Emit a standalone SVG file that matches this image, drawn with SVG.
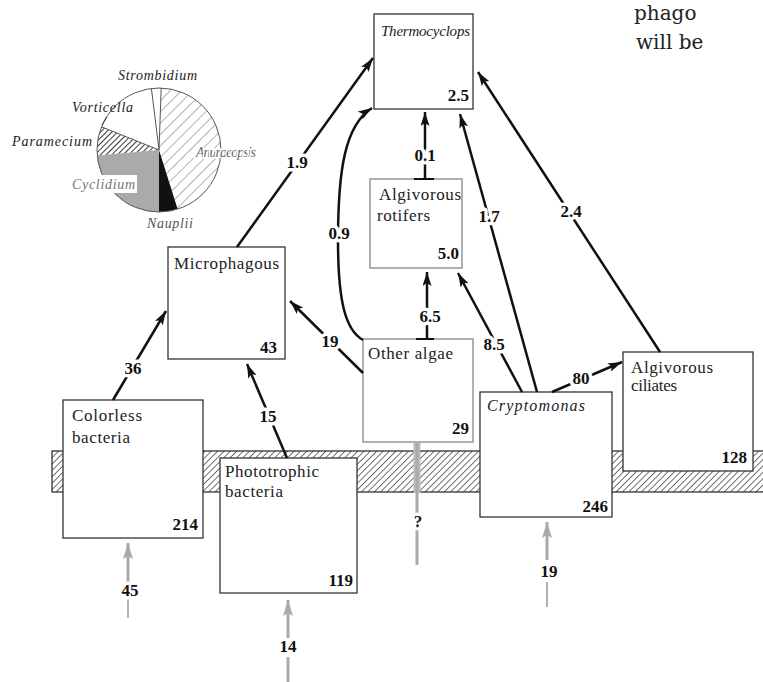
<svg xmlns="http://www.w3.org/2000/svg" width="763" height="682" viewBox="0 0 763 682">
<defs>
<pattern id="band" patternUnits="userSpaceOnUse" width="4.5" height="4.5" patternTransform="rotate(45)">
<line x1="0" y1="0" x2="0" y2="4.5" stroke="#111" stroke-width="1.2"/>
</pattern>
<pattern id="sparse" patternUnits="userSpaceOnUse" width="8" height="8" patternTransform="rotate(45)">
<line x1="0" y1="0" x2="0" y2="8" stroke="#555" stroke-width="0.9"/>
</pattern>
<pattern id="dense" patternUnits="userSpaceOnUse" width="4" height="4" patternTransform="rotate(45)">
<line x1="0" y1="0" x2="0" y2="4" stroke="#222" stroke-width="1.8"/>
</pattern>
<marker id="ah" viewBox="0 0 14 9" refX="14" refY="4.5" markerWidth="14" markerHeight="9" markerUnits="userSpaceOnUse" orient="auto">
<path d="M0,0 L14,4.5 L0,9 L3,4.5 Z" fill="#111"/>
</marker>
<marker id="gh" viewBox="0 0 16 10" refX="16" refY="5" markerWidth="16" markerHeight="10" markerUnits="userSpaceOnUse" orient="auto">
<path d="M0,0 L16,5 L0,10 L3,5 Z" fill="#aaa"/>
</marker>
</defs>
<style>
.box{fill:#fff;stroke:#333;stroke-width:1.3}
.gbox{fill:#fff;stroke:#888;stroke-width:1.3}
.lbl{font-family:"Liberation Serif","Times New Roman",serif;font-size:17px;fill:#222}
.it{font-style:italic}
.num{font-family:"Liberation Serif","Times New Roman",serif;font-size:17px;font-weight:bold;fill:#111;text-anchor:end}
.el{font-family:"Liberation Serif","Times New Roman",serif;font-size:17px;font-weight:bold;fill:#111;text-anchor:middle;paint-order:stroke;stroke:#fff;stroke-width:7px;stroke-linejoin:round}
.c{fill:none;stroke:#111;stroke-width:2.5;marker-end:url(#ah)}
.g{fill:none;stroke:#aaa;stroke-width:3}
.pl{font-family:"Liberation Serif","Times New Roman",serif;font-size:14px;font-style:italic;fill:#222}
</style>
<rect width="763" height="682" fill="#fff"/>

<text x="634" y="20" font-family="DejaVu Serif, serif" font-size="20" fill="#222">phago</text>
<text x="636" y="49" font-family="DejaVu Serif, serif" font-size="20" fill="#222">will be</text>

<g id="pie">
<path d="M159,150 L161.2,88 A62,62 0 0 1 177.6,209.1 Z" fill="url(#sparse)"/>
<path d="M159,150 L177.6,209.1 A62,62 0 0 1 159,212 Z" fill="#111"/>
<path d="M159,150 L159,212 A62,62 0 0 1 97.2,155.4 Z" fill="#aaa"/>
<path d="M159,150 L97.2,155.4 A62,62 0 0 1 101.5,126.8 Z" fill="url(#dense)"/>
<path d="M159,150 L101.5,126.8 A62,62 0 0 1 151.4,88.5 Z" fill="#fff"/>
<path d="M159,150 L151.4,88.5 A62,62 0 0 1 161.2,88 Z" fill="#fff"/>
<circle cx="159" cy="150" r="62" fill="none" stroke="#555" stroke-width="1"/>
<path d="M159,150 L161.2,88 M159,150 L151.4,88.5 M159,150 L101.5,126.8" stroke="#555" stroke-width="1" fill="none"/>
<line x1="102" y1="125" x2="107" y2="117" stroke="#333" stroke-width="1"/>
<text class="pl" x="118" y="80" textLength="79" lengthAdjust="spacing">Strombidium</text>
<text class="pl" x="72" y="112" textLength="61" lengthAdjust="spacing">Vorticella</text>
<text class="pl" x="12" y="146" textLength="80" lengthAdjust="spacing">Paramecium</text>
<rect x="70" y="175" width="67" height="18" fill="#fff"/>
<text class="pl" x="72" y="189" textLength="63" lengthAdjust="spacing" style="fill:#777">Cyclidium</text>
<text class="pl" x="196" y="157" textLength="60" lengthAdjust="spacing" style="fill:#666;paint-order:stroke;stroke:#fff;stroke-width:3px">Anuraeopsis</text>
<text class="pl" x="147" y="228" textLength="46" lengthAdjust="spacing" style="fill:#555">Nauplii</text>
</g>

<g id="band-layer">
<rect x="52" y="451" width="715" height="41" fill="url(#band)" stroke="#222" stroke-width="1.2"/>
</g>

<g id="thermocyclops">
<rect class="box" x="374" y="14" width="99" height="95"/>
<text class="lbl it" x="381" y="36" style="font-size:15px" textLength="89" lengthAdjust="spacing">Thermocyclops</text>
<text class="num" x="469" y="101">2.5</text>
</g>
<g id="rotifers">
<rect class="gbox" x="370" y="179" width="92" height="89"/>
<text class="lbl" x="379" y="200" textLength="82" lengthAdjust="spacing">Algivorous</text>
<text class="lbl" x="377" y="221" textLength="53" lengthAdjust="spacing">rotifers</text>
<text class="num" x="459" y="259">5.0</text>
</g>
<g id="microphagous">
<rect class="box" x="168" y="247" width="117" height="112"/>
<text class="lbl" x="174" y="269" textLength="105" lengthAdjust="spacing">Microphagous</text>
<text class="num" x="277" y="353">43</text>
</g>
<g id="other-algae">
<rect class="gbox" x="363" y="339" width="110" height="103"/>
<text class="lbl" x="368" y="359" textLength="85" lengthAdjust="spacing">Other algae</text>
<text class="num" x="469" y="434">29</text>
</g>
<g id="cryptomonas">
<rect class="box" x="480" y="392" width="132" height="125"/>
<text class="lbl it" x="487" y="411" style="font-size:16px" textLength="98" lengthAdjust="spacing">Cryptomonas</text>
<text class="num" x="608" y="512">246</text>
</g>
<g id="ciliates">
<rect class="box" x="623" y="352" width="130" height="119"/>
<text class="lbl" x="631" y="373" textLength="82" lengthAdjust="spacing">Algivorous</text>
<text class="lbl" x="631" y="391" textLength="46" lengthAdjust="spacing">ciliates</text>
<text class="num" x="747" y="463">128</text>
</g>
<g id="colorless-bacteria">
<rect class="box" x="63" y="400" width="140" height="138"/>
<text class="lbl" x="72" y="421" textLength="70" lengthAdjust="spacing">Colorless</text>
<text class="lbl" x="72" y="443" textLength="58" lengthAdjust="spacing">bacteria</text>
<text class="num" x="198" y="530">214</text>
</g>
<g id="phototrophic-bacteria">
<rect class="box" x="220" y="458" width="137" height="135"/>
<text class="lbl" x="225" y="477" textLength="94" lengthAdjust="spacing">Phototrophic</text>
<text class="lbl" x="225" y="497" textLength="58" lengthAdjust="spacing">bacteria</text>
<text class="num" x="353" y="586">119</text>
</g>

<g id="connectors">
<line class="c" x1="237" y1="247" x2="373" y2="58"/>
<path class="c" d="M363,340 C345,330 338,300 338,240 C338,170 345,125 372,108"/>
<line class="c" x1="425" y1="179" x2="425" y2="112"/>
<line x1="414" y1="179" x2="434" y2="179" stroke="#111" stroke-width="2"/>
<line class="c" x1="537" y1="392" x2="460" y2="114"/>
<line class="c" x1="660" y1="352" x2="478" y2="72"/>
<line class="c" x1="522" y1="392" x2="458" y2="273"/>
<line class="c" x1="427" y1="339" x2="427" y2="272"/>
<line x1="416" y1="339" x2="434" y2="339" stroke="#111" stroke-width="2"/>
<line class="c" x1="363" y1="373" x2="290" y2="301"/>
<line class="c" x1="552" y1="392" x2="622" y2="362"/>
<line class="c" x1="113" y1="400" x2="166" y2="311"/>
<line class="c" x1="287" y1="458" x2="247" y2="364"/>

<line class="g" x1="128" y1="583" x2="128" y2="543" marker-end="url(#gh)"/>
<line x1="128" y1="599" x2="128" y2="618" stroke="#999" stroke-width="1.5"/>
<line class="g" x1="288" y1="638" x2="288" y2="600" marker-end="url(#gh)"/>
<line x1="288" y1="657" x2="288" y2="682" stroke="#aaa" stroke-width="3"/>
<line x1="417" y1="443" x2="417" y2="493" stroke="#bbb" stroke-width="7"/>
<line x1="417" y1="443" x2="417" y2="565" stroke="#aaa" stroke-width="3"/>
<line class="g" x1="547" y1="560" x2="547" y2="522" marker-end="url(#gh)"/>
<line x1="547" y1="582" x2="547" y2="607" stroke="#999" stroke-width="1.5"/>

<text class="el" x="297" y="168">1.9</text>
<text class="el" x="339" y="239">0.9</text>
<text class="el" x="425" y="161">0.1</text>
<text class="el" x="489" y="222">1.7</text>
<text class="el" x="571" y="217">2.4</text>
<text class="el" x="494" y="350">8.5</text>
<text class="el" x="430" y="322">6.5</text>
<text class="el" x="330" y="347">19</text>
<text class="el" x="581" y="384">80</text>
<text class="el" x="133" y="374">36</text>
<text class="el" x="268" y="422">15</text>
<text class="el" x="130" y="596">45</text>
<text class="el" x="288" y="652">14</text>
<text class="el" x="418" y="527">?</text>
<text class="el" x="549" y="577">19</text>
</g>
</svg>
